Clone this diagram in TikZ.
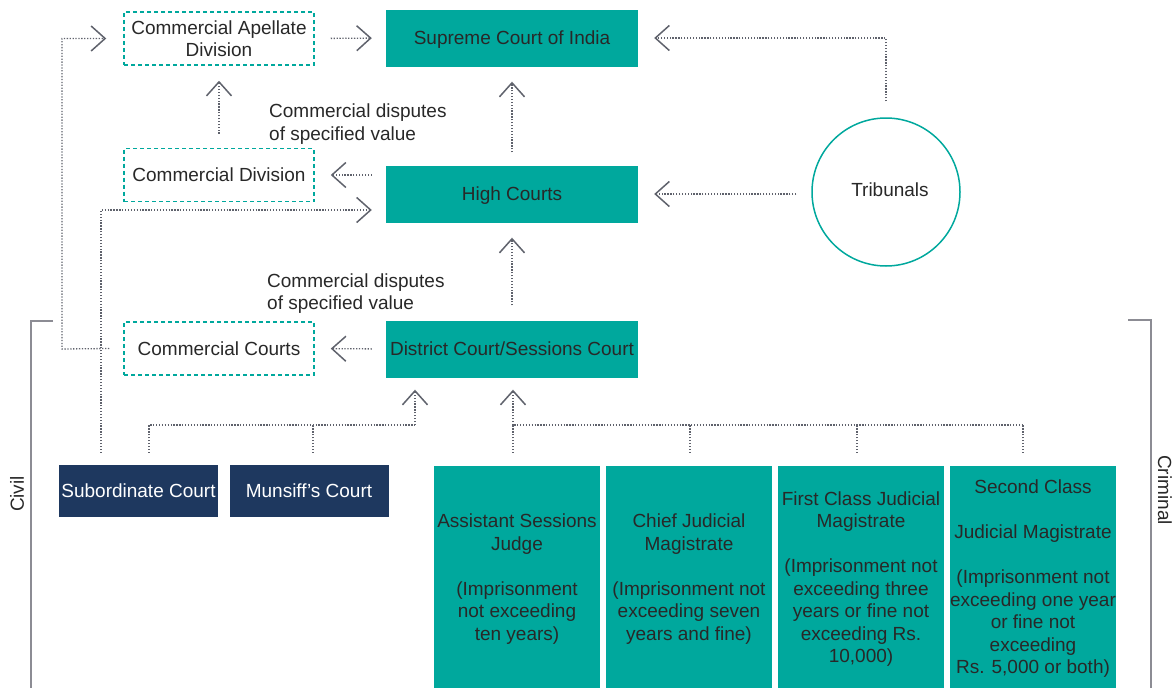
\documentclass[tikz,border=0pt]{standalone}
\usepackage{fontspec}
\setmainfont{Liberation Sans}
\usetikzlibrary{arrows.meta,calc}
\definecolor{teal1}{RGB}{0,168,157}
\definecolor{navy1}{RGB}{30,56,95}
\definecolor{dotgray}{RGB}{95,98,108}
\definecolor{brgray}{RGB}{140,140,148}
\definecolor{txt}{RGB}{40,40,40}
\begin{document}
\begin{tikzpicture}[x=1pt,y=-1pt,
  every node/.style={font=\fontsize{19}{22.5}\selectfont, text=txt, inner sep=0pt, align=center, text depth=0pt},
  tealbox/.style={fill=teal1, minimum width=252pt, minimum height=57pt},
  dashbox/.style={draw=teal1, line width=1.5pt, dash pattern=on 4pt off 3pt, minimum width=190pt, minimum height=53pt},
  navybox/.style={fill=navy1, text=white, minimum width=159pt, minimum height=52pt},
  crimbox/.style={fill=teal1, minimum width=166pt, minimum height=222pt},
  dotline/.style={draw=dotgray, line width=1.3pt, dash pattern=on 1.3pt off 1.6pt},
  conn/.style={dotline, -{Straight Barb[length=14pt,width=25pt,line width=1.5pt]}},
  bracket/.style={draw=brgray, line width=1.5pt}
]
\useasboundingbox (0,0) rectangle (1176,688);

% top-level nodes
\node[tealbox] (sc) at (512,38) {Supreme Court of India};
\node[tealbox] (hc) at (512,194) {High Courts};
\node[tealbox] (dc) at (512,349) {District Court/Sessions Court};
\node[dashbox] (cad) at (219,38.5) {Commercial Apellate\\Division};
\node[dashbox] (cd) at (219,175) {Commercial Division};
\node[dashbox] (cc) at (219,348.5) {Commercial Courts};
\node[circle, draw=teal1, line width=1.5pt, minimum size=148pt] (trib) at (886,192) {};
\node (tribt) at (890,190) {Tribunals};

\node[anchor=west, align=left] (lab1) at (269,122) {Commercial disputes\\of specified value};
\node[anchor=west, align=left] (lab2) at (267,291.5) {Commercial disputes\\of specified value};

% civil courts
\node[navybox] (sub) at (138.5,491) {Subordinate Court};
\node[navybox] (mun) at (309,491) {Munsiff’s Court};

% criminal courts
\node[crimbox] (a1) at (517,577) {Assistant Sessions\\Judge\\[22.5pt](Imprisonment\\not exceeding\\ten years)};
\node[crimbox] (a2) at (689,577) {Chief Judicial\\Magistrate\\[22.5pt](Imprisonment not\\exceeding seven\\years and fine)};
\node[crimbox] (a3) at (861,577) {First Class Judicial\\Magistrate\\[22.5pt](Imprisonment not\\exceeding three\\years or fine not\\exceeding Rs.\\10,000)};
\node[crimbox] (a4) at (1033,577) {Second Class\\[22.5pt]Judicial Magistrate\\[22.5pt](Imprisonment not\\exceeding one year\\or fine not\\exceeding\\Rs. 5,000 or both)};

% group labels
\node[rotate=90] (civil) at (17,494) {Civil};
\node[rotate=-90] (crim) at (1165,490) {Criminal};

% connectors among upper courts
\draw[conn, shorten <=16pt, shorten >=14pt] (cad.east) -- (sc.west);
\draw[conn, shorten <=14pt, shorten >=15pt] (cd.north) -- (cad.south);
\draw[conn, shorten <=14pt, shorten >=16pt] (cd.east -| hc.west) -- (cd.east);
\draw[conn, shorten <=13pt, shorten >=15pt] (hc.north) -- (sc.south);
\draw[conn, shorten <=15pt, shorten >=15pt] (dc.north) -- (hc.south);
\draw[conn, shorten <=14pt, shorten >=16pt] (dc.west) -- (cc.east);
\draw[conn, shorten <=16pt, shorten >=16pt] (trib.north) -- (trib.north |- sc.east) -- (sc.east);
\draw[conn, shorten <=15pt, shorten >=16pt] (hc.east -| trib.west) -- (hc.east);

% outer left lines
\coordinate (lc) at (62,349);
\draw[conn, shorten >=17pt] ([xshift=-14pt]cc.west) -- (lc) |- (cad.west);
\coordinate (ls) at (101,210);
\draw[conn, shorten >=14pt] ([xshift=-37.5pt,yshift=12pt]sub.north) -- (ls) -- (ls -| hc.west);

% civil branch
\coordinate (cj) at (415,425);
\draw[dotline] ([xshift=10.5pt,yshift=12pt]sub.north) |- (cj);
\draw[dotline] ([xshift=4pt,yshift=12pt]mun.north) -- ([xshift=4pt]mun.north |- cj);
\draw[conn, shorten >=12pt] (cj) -- (cj |- dc.south);

% criminal branch
\coordinate (kj) at (513,425);
\draw[dotline] ([xshift=-4pt,yshift=13pt]a1.north) -- (kj) -- (1023,425);
\draw[dotline] ([xshift=1pt,yshift=13pt]a2.north) -- ([xshift=1pt]a2.north |- kj);
\draw[dotline] ([xshift=-4pt,yshift=13pt]a3.north) -- ([xshift=-4pt]a3.north |- kj);
\draw[dotline] ([xshift=-10pt,yshift=13pt]a4.north) -- ([xshift=-10pt]a4.north |- kj);
\draw[conn, shorten >=12pt] (kj) -- (kj |- dc.south);

% brackets
\draw[bracket] (53,321) -- (31,321) -- (31,688);
\draw[bracket] (1128,320) -- (1151,320) -- (1151,688);
\end{tikzpicture}
\end{document}
